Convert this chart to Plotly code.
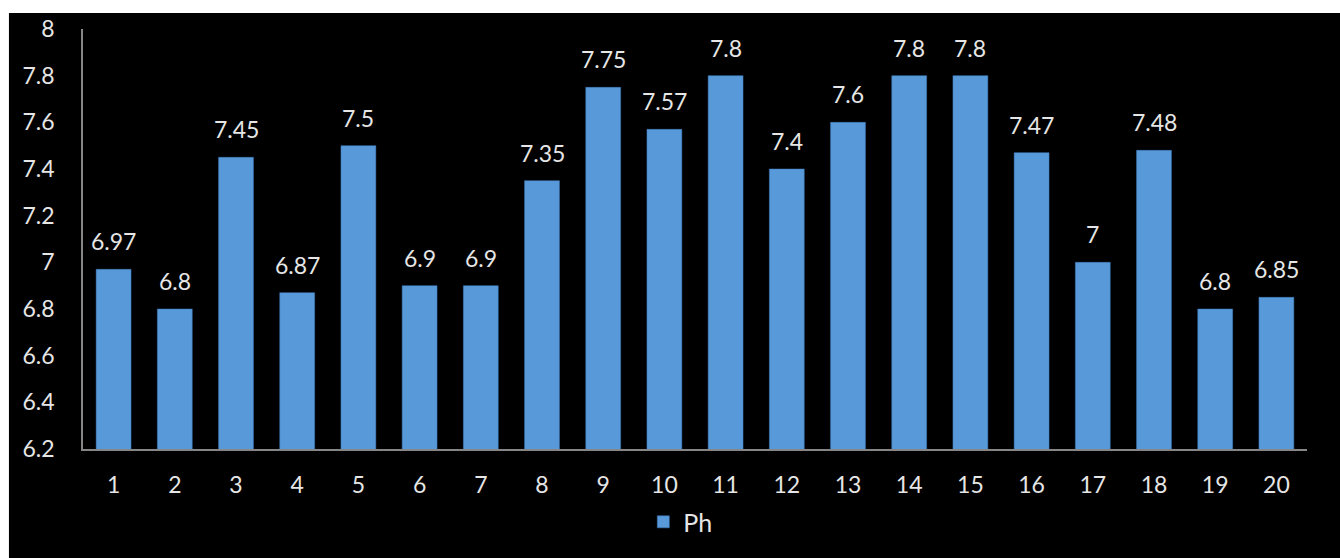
import plotly.graph_objects as go

categories = list(range(1, 21))
ph_values = [6.97, 6.8, 7.45, 6.87, 7.5, 6.9, 6.9, 7.35, 7.75, 7.57,
             7.8, 7.4, 7.6, 7.8, 7.8, 7.47, 7, 7.48, 6.8, 6.85]
y_ticks = [6.2, 6.4, 6.6, 6.8, 7, 7.2, 7.4, 7.6, 7.8, 8]
series_name = "Ph"

FONT = "Lato, 'Open Sans', sans-serif"
TXT = "#e6e6e6"

fig = go.Figure()
fig.add_trace(go.Bar(
    x=categories, y=ph_values, name=series_name,
    marker=dict(color="#5899d9", line=dict(color="#3f7fc0", width=0.5)),
    showlegend=True,
))

for c, v in zip(categories, ph_values):
    fig.add_annotation(x=c, y=v, text=f"{v:g}", showarrow=False,
                       yanchor="bottom", yshift=12,
                       font=dict(family=FONT, size=23, color=TXT))

# black canvas with thin white strips at top/left
fig.add_shape(type="rect", xref="paper", yref="paper",
              x0=-0.0605, x1=1.03, y0=-0.27, y1=1.038,
              fillcolor="black", line=dict(width=0), layer="below")

fig.update_layout(
    width=1340, height=558,
    margin=dict(l=83, r=33, t=29, b=109),
    paper_bgcolor="white", plot_bgcolor="black",
    bargap=0.43,
    font=dict(family=FONT, size=23, color=TXT),
    legend=dict(orientation="h", x=0.488, xanchor="center", y=-0.174,
                yanchor="middle", font=dict(size=25, color=TXT),
                bgcolor="rgba(0,0,0,0)"),
    xaxis=dict(range=[categories[0] - 0.5, categories[-1] + 0.5],
               tickvals=categories, showgrid=False, showline=True,
               linecolor="#868686", linewidth=1.5, ticks="", zeroline=False,
               tickfont=dict(size=23, color=TXT), ticklabelstandoff=15),
    yaxis=dict(range=[6.2, 8], tickvals=y_ticks, showgrid=False, showline=True,
               linecolor="#868686", linewidth=1.5, ticks="", zeroline=False,
               tickfont=dict(size=23, color=TXT), ticklabelstandoff=22),
)

fig.write_html("out.html")
